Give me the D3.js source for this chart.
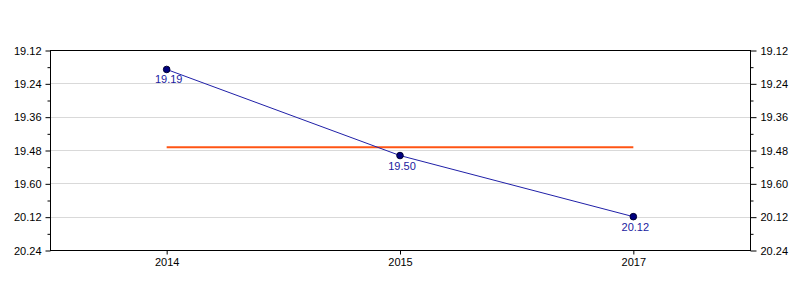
<!DOCTYPE html>
<html>
<head>
<meta charset="utf-8">
<script src="https://cdn.jsdelivr.net/npm/d3@7"></script>
<style>
  body { margin: 0; background: #fff; }
  text { font-family: "Liberation Sans", Arial, sans-serif; }
</style>
</head>
<body>
<div id="chart"></div>
<script>
// values are minutes.seconds, e.g. 19.60 == 20.00
var years = ["2014", "2015", "2017"];
var times = ["19.19", "19.50", "20.12"];
var yTickLabels = ["19.12", "19.24", "19.36", "19.48", "19.60", "20.12", "20.24"];

function toSec(s) {
    var p = s.split(".");
    return (+p[0]) * 60 + (+p[1]);
}

var data = years.map(function(y, i) { return { year: y, label: times[i], sec: toSec(times[i]) }; });
var tickSecs = yTickLabels.map(toSec);
var minorSecs = [];
for (var i = 0; i < tickSecs.length - 1; i++) minorSecs.push((tickSecs[i] + tickSecs[i + 1]) / 2);

var width = 800, height = 300;
var mLeft = 50, mRight = 750, mTop = 50, mBottom = 250;

var svg = d3.select("#chart")
    .append("svg")
    .attr("width", width)
    .attr("height", height);

var x = d3.scalePoint()
    .domain(years)
    .range([mLeft, mRight])
    .padding(0.5);

var y = d3.scaleLinear()
    .domain([tickSecs[0], tickSecs[tickSecs.length - 1]])
    .range([mTop, mBottom]);

var labelOf = function(d) { return yTickLabels[tickSecs.indexOf(d)]; };

// grid
svg.append("g")
    .selectAll("line")
    .data(tickSecs.slice(1, -1))
    .enter().append("line")
    .attr("x1", mLeft).attr("x2", mRight)
    .attr("y1", function(d) { return Math.round(y(d)) + 0.5; })
    .attr("y2", function(d) { return Math.round(y(d)) + 0.5; })
    .attr("stroke", "#d9d9d9")
    .attr("stroke-width", 1);

// frame top
svg.append("line")
    .attr("x1", mLeft).attr("x2", mRight + 1)
    .attr("y1", mTop + 0.5).attr("y2", mTop + 0.5)
    .attr("stroke", "#000");

function styleAxis(g) {
    g.selectAll("text").attr("font-size", "11px").attr("fill", "#000");
    g.selectAll("line,path").attr("stroke", "#000");
}

// left axis
svg.append("g")
    .attr("transform", "translate(" + (mLeft + 0.5) + ",0.5)")
    .call(d3.axisLeft(y).tickValues(tickSecs).tickFormat(labelOf).tickSize(5).tickSizeOuter(0).tickPadding(4))
    .call(styleAxis)
    .call(function(g) { g.select(".domain").attr("d", "M0," + mTop + "V" + mBottom); });

svg.append("g")
    .attr("transform", "translate(" + (mLeft + 0.5) + ",0.5)")
    .call(d3.axisLeft(y).tickValues(minorSecs).tickFormat("").tickSize(3))
    .call(styleAxis)
    .call(function(g) { g.select(".domain").remove(); });

// right axis
svg.append("g")
    .attr("transform", "translate(" + (mRight + 0.5) + ",0.5)")
    .call(d3.axisRight(y).tickValues(tickSecs).tickFormat(labelOf).tickSize(6).tickSizeOuter(0).tickPadding(4))
    .call(styleAxis)
    .call(function(g) { g.select(".domain").attr("d", "M0," + mTop + "V" + mBottom); });

svg.append("g")
    .attr("transform", "translate(" + (mRight + 0.5) + ",0.5)")
    .call(d3.axisRight(y).tickValues(minorSecs).tickFormat("").tickSize(3))
    .call(styleAxis)
    .call(function(g) { g.select(".domain").remove(); });

// bottom axis
svg.append("g")
    .attr("transform", "translate(0," + (mBottom + 0.5) + ")")
    .call(d3.axisBottom(x).tickSize(4).tickSizeOuter(0).tickPadding(4))
    .call(styleAxis)
    .call(function(g) { g.select(".domain").attr("d", "M" + mLeft + ",0H" + (mRight + 1)); });

// average line
var avg = d3.mean(data, function(d) { return d.sec; });
svg.append("line")
    .attr("x1", x(years[0])).attr("x2", x(years[years.length - 1]))
    .attr("y1", y(avg)).attr("y2", y(avg))
    .attr("stroke", "#ff5514")
    .attr("stroke-width", 2);

// series line
var line = d3.line()
    .x(function(d) { return x(d.year); })
    .y(function(d) { return y(d.sec); });

svg.append("path")
    .datum(data)
    .attr("fill", "none")
    .attr("stroke", "#2020a8")
    .attr("stroke-width", 1)
    .attr("d", line);

svg.selectAll(".dot")
    .data(data)
    .enter().append("circle")
    .attr("class", "dot")
    .attr("cx", function(d) { return x(d.year); })
    .attr("cy", function(d) { return y(d.sec); })
    .attr("r", 3.3)
    .attr("fill", "#000080")
    .attr("stroke", "#000030")
    .attr("stroke-width", 1);

svg.selectAll(".vlabel")
    .data(data)
    .enter().append("text")
    .attr("class", "vlabel")
    .attr("x", function(d) { return x(d.year) + 2; })
    .attr("y", function(d) { return y(d.sec) + 14; })
    .attr("text-anchor", "middle")
    .attr("font-size", "11px")
    .attr("fill", "#1a1aa0")
    .text(function(d) { return d.label; });
</script>
</body>
</html>
